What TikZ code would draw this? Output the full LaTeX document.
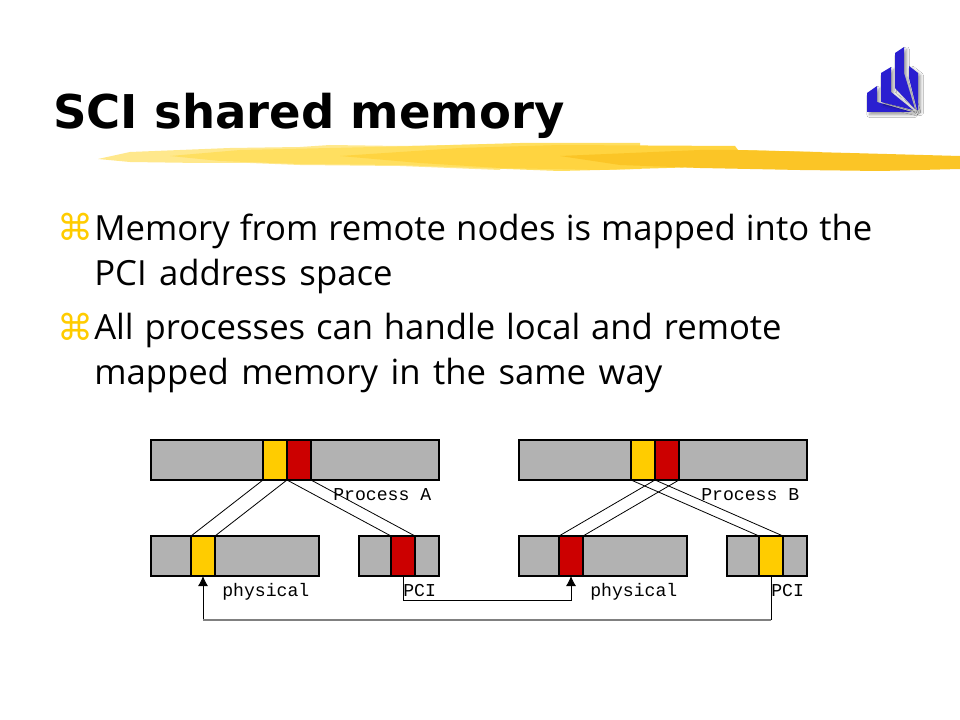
\documentclass[tikz,border=0pt]{standalone}
\usepackage{fontspec}
\setmainfont{Open Sans}
\newfontfamily\titlefont{DejaVu Sans}
\newfontfamily\bulletfont{DejaVu Sans}
\newfontfamily\labelfont{Liberation Mono}
\definecolor{barGray}{HTML}{B2B2B2}
\definecolor{segGold}{HTML}{FFCC00}
\definecolor{segRed}{HTML}{CC0000}
\definecolor{logoBlue}{HTML}{2A1FD0}
\definecolor{brushA}{HTML}{FFE88C}
\definecolor{brushB}{HTML}{FFDF60}
\definecolor{brushC}{HTML}{FFD440}
\definecolor{brushD}{HTML}{FBC526}
\usepackage{tikz}
\usetikzlibrary{arrows.meta, shadows.blur}
\newcommand{\itemgap}{\spaceskip=9.4pt plus 6pt minus 2.5pt\relax}
\tikzset{
  membar/.style={draw=black, fill=barGray, line width=0.8pt, inner sep=0pt, outer sep=0pt,
                 anchor=north west, minimum height=30pt},
  goldseg/.style={membar, fill=segGold, minimum width=18pt},
  redseg/.style={membar, fill=segRed, minimum width=18pt},
  maplink/.style={draw=black, line width=0.6pt},
  crosslink/.style={draw=black, line width=0.6pt, -{Latex[length=7.5pt,width=7.5pt]}},
  barlabel/.style={font=\labelfont\fontsize{13.6}{15}\selectfont, anchor=base west, inner sep=0pt},
  bodytext/.style={font=\fontsize{26}{33.75}\selectfont, anchor=north west, inner sep=0pt, align=justify},
  bulletmark/.style={font=\bulletfont\fontsize{27}{27}\selectfont, text=segGold, anchor=base west, inner sep=0pt},
  logobar/.style={fill=logoBlue, blur shadow={shadow xshift=2pt, shadow yshift=-2pt, shadow blur steps=6}}
}
\begin{document}
\begin{tikzpicture}[x=0.75pt, y=-0.75pt]
  \useasboundingbox (0,0) rectangle (960,720);
  \fill[white] (0,0) rectangle (960,720);
  % brush stroke under the title
  \fill[brushA] (98,159) -- (130,152) -- (180,150) -- (230,148) -- (300,147) -- (330,145) -- (400,146) -- (500,144)
    -- (500,170) -- (400,166) -- (300,165) -- (250,163) -- (200,163) -- (130,162) -- cycle;
  \fill[brushB] (170,156) -- (240,150) -- (330,148) -- (420,146) -- (520,143) -- (640,143)
    -- (640,169) -- (560,171) -- (480,168) -- (400,165) -- (300,164) -- (220,161) -- cycle;
  \fill[brushC] (340,156) -- (460,148) -- (560,145) -- (735,146) -- (738,150) -- (820,152)
    -- (820,170) -- (700,167) -- (600,170) -- (500,168) -- (420,163) -- cycle;
  \fill[brushD] (560,156) -- (700,150) -- (738,150) -- (850,153) -- (960,156)
    -- (960,169) -- (880,171) -- (800,170) -- (700,168) -- (620,165) -- cycle;
  % title and logo
  \node[font=\titlefont\bfseries\fontsize{34.9}{40}\selectfont, anchor=base west, inner sep=0pt] (title) at (53,129) {SCI shared memory};
  \fill[logobar] (867,93) -- (877,86) -- (877,102) -- (912,112) -- (867,112) -- cycle;
  \fill[logobar] (881,73) -- (891,67) -- (891,92) -- (913,110) -- (881,102) -- cycle;
  \fill[logobar] (895,53) -- (904,47) -- (904,73) -- (915,109) -- (895,88) -- cycle;
  \fill[logobar] (909,66) -- (918,73) -- (918,110) -- (917,110) -- (909,78) -- cycle;
  % bullets
  \node[bulletmark] (markA) at (57,241) {⌘};
  \node[bodytext, text width=583.5pt] (itemA) at (94,214) {\itemgap Memory from remote nodes is mapped into the\linebreak PCI address space};
  \node[bulletmark] (markB) at (57,340) {⌘};
  \node[bodytext, text width=515.5pt] (itemB) at (94,313) {\itemgap All processes can handle local and remote\linebreak mapped memory in the same way};
  % process A
  \node[membar, minimum width=216pt] (procA) at (151,440) {};
  \node[goldseg] (procAgold) at (263,440) {};
  \node[redseg] (procAred) at (287,440) {};
  \node[membar, minimum width=126pt] (physA) at (151,536) {};
  \node[goldseg] (physAgold) at (191,536) {};
  \node[membar, minimum width=60pt] (pciA) at (359,536) {};
  \node[redseg] (pciAred) at (391,536) {};
  % process B
  \node[membar, minimum width=216pt] (procB) at (519,440) {};
  \node[goldseg] (procBgold) at (631,440) {};
  \node[redseg] (procBred) at (655,440) {};
  \node[membar, minimum width=126pt] (physB) at (519,536) {};
  \node[redseg] (physBred) at (559,536) {};
  \node[membar, minimum width=60pt] (pciB) at (727,536) {};
  \node[goldseg] (pciBgold) at (759,536) {};
  % labels
  \node[barlabel] (procAlabel) at (333,500.5) {Process A};
  \node[barlabel] (physAlabel) at (222,596.5) {physical};
  \node[barlabel] (pciAlabel) at (403,596.5) {PCI};
  \node[barlabel] (procBlabel) at (701,500.5) {Process B};
  \node[barlabel] (physBlabel) at (590,596.5) {physical};
  \node[barlabel] (pciBlabel) at (771,596.5) {PCI};
  % mapping lines
  \draw[maplink] (procAgold.south west) -- (physAgold.north west);
  \draw[maplink] (procAgold.south east) -- (physAgold.north east);
  \draw[maplink] (procAred.south west) -- (pciAred.north west);
  \draw[maplink] (procAred.south east) -- (pciAred.north east);
  \draw[maplink] (procBgold.south west) -- (pciBgold.north west);
  \draw[maplink] (procBgold.south east) -- (pciBgold.north east);
  \draw[maplink] (procBred.south west) -- (physBred.north west);
  \draw[maplink] (procBred.south east) -- (physBred.north east);
  % PCI to physical
  \coordinate (lowR) at (771,619.5);
  \coordinate (lowL) at (203,619.5);
  \draw[crosslink] (pciAred.south) -- (403,600) -- (571,600) -- (physBred.south);
  \draw[crosslink] (pciBgold.south) -- (lowR) -- (lowL) -- (physAgold.south);
  \draw[draw=gray, line width=1.5pt] (lowR) -- (lowL);
\end{tikzpicture}
\end{document}
